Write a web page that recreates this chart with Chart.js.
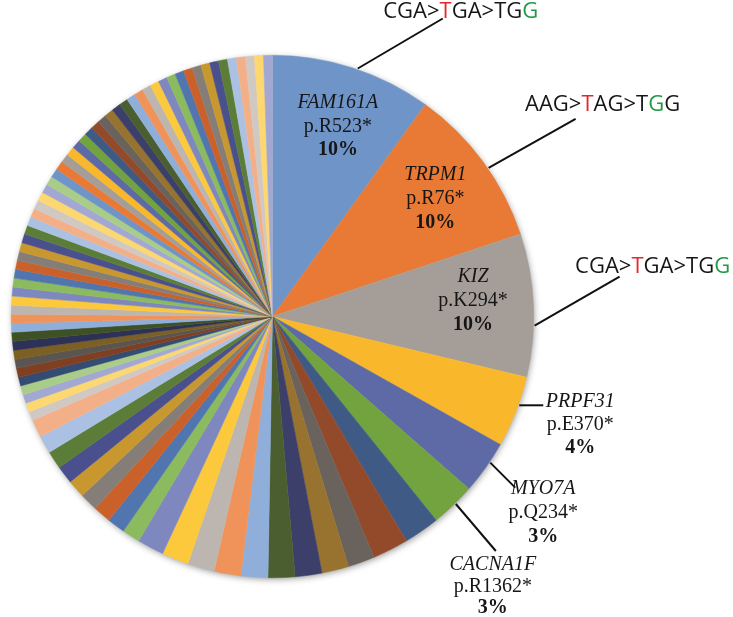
<!DOCTYPE html>
<html lang="en">
<head>
<meta charset="utf-8"/>
<title>Recurrent nonsense variants</title>
<script src="https://cdn.jsdelivr.net/npm/chart.js"></script>
<style>
  html, body { margin: 0; padding: 0; background: #fff; }
  #wrap { width: 733px; height: 617px; }
</style>
</head>
<body>
<div id="wrap"><canvas id="pie" width="733" height="617"></canvas></div>
<script>
// labelled variants (first six slices, clockwise from 12 o'clock)
const genes = ['FAM161A', 'TRPM1', 'KIZ', 'PRPF31', 'MYO7A', 'CACNA1F'];
const proteinChanges = ['p.R523*', 'p.R76*', 'p.K294*', 'p.E370*', 'p.Q234*', 'p.R1362*'];
const percents = ['10%', '10%', '10%', '4%', '3%', '3%'];

// number of families per variant
const counts = [
  18, 18, 16, 8, 6, 5,
  4, 4, 3, 3, 3, 3,
  3, 3, 3, 3, 3, 2,
  2, 2, 2, 2, 2, 2,
  2, 2, 1, 1, 1, 1,
  1, 1, 1, 1, 1, 1,
  1, 1, 1, 1, 1, 1,
  1, 1, 1, 1, 1, 1,
  1, 1, 1, 1, 1, 1,
  1, 1, 1, 1, 1, 1,
  1, 1, 1, 1, 1, 1,
  1, 1, 1, 1, 1, 1,
  1, 1, 1, 1, 1, 1,
  1, 1, 1, 1, 1
];
const labels = genes.concat(counts.slice(genes.length).map((_, i) => 'Other ' + (i + 1)));

// codon changes for the three big slices
const codonPaths = ['CGA>TGA>TGG', 'AAG>TAG>TGG', 'CGA>TGA>TGG'];
const redLetter = [4, 4, 4];
const greenLetter = [10, 9, 10];

// office-like palette, six accents in several shades
const shades = {
  base:  ['#6F95C8', '#E87A35', '#A59E98', '#F9B82B', '#5D6AA5', '#72A33F'],
  dark:  ['#3F5A84', '#934A2A', '#69625D', '#98732F', '#3B3F69', '#4A5E30'],
  light: ['#8FAEDA', '#F0935A', '#BDB5AF', '#FDC93C', '#7E88BF', '#8BBB5E'],
  mid:   ['#5175AE', '#CB612A', '#857E78', '#C8982F', '#4A508D', '#5B7D37'],
  pale:  ['#AAC1E3', '#F3B088', '#D0C9C3', '#FDD76F', '#A2A8D1', '#A9CD89'],
  deep:  ['#344C72', '#7F3F20', '#5A5550', '#7B5F23', '#2E3156', '#3E5125']
};
const shadeOrder = ['base', 'dark', 'light', 'mid', 'pale', 'deep', 'light', 'mid', 'pale', 'base', 'dark', 'light', 'mid', 'pale'];
const colors = counts.map((_, i) => shades[shadeOrder[Math.floor(i / 6)]][i % 6]);

// where leader lines leave each slice (fraction of the slice) and where they go
const callouts = [
  { f: 0.53, line: [85, -50], text: [18, -7], gap: 24 },
  { f: 0.55, line: [87, -49], text: [27, -14], gap: 24 },
  { f: 0.64, line: [85, -49], text: [33, -10], gap: 24 },
  { f: 0.40, line: [24, 0], text: [37, -4], gap: 23.5 },
  { f: 0.38, line: [25, 25], text: [28, 1], gap: 24 },
  { f: 0.44, line: [40, 47], text: [-3, 14], gap: 21.5 }
];
const innerFrac = [0.53, 0.51, 0.44];

function pointAt(arc, frac, r) {
  const a = arc.startAngle + (arc.endAngle - arc.startAngle) * frac;
  return { x: arc.x + Math.cos(a) * r, y: arc.y + Math.sin(a) * r };
}

function drawCodons(ctx, text, redAt, greenAt, cx, cy) {
  ctx.font = '22px "Open Sans"';
  ctx.textAlign = 'left';
  ctx.textBaseline = 'middle';
  let x = cx - ctx.measureText(text).width / 2;
  for (let k = 0; k < text.length; k++) {
    ctx.fillStyle = k === redAt ? '#E5262B' : k === greenAt ? '#1E9A45' : '#161616';
    ctx.fillText(text[k], x, cy);
    x += ctx.measureText(text[k]).width;
  }
}

function drawLabel(ctx, i, cx, cy, gap) {
  ctx.textAlign = 'center';
  ctx.textBaseline = 'middle';
  ctx.fillStyle = '#161616';
  ctx.font = 'italic 20px "Liberation Serif"';
  ctx.fillText(genes[i], cx, cy);
  ctx.font = '20px "Liberation Serif"';
  ctx.fillText(proteinChanges[i], cx, cy + gap);
  ctx.font = 'bold 20px "Liberation Serif"';
  ctx.fillText(percents[i], cx, cy + gap * 2);
}

const pieShadow = {
  id: 'pieShadow',
  beforeDatasetsDraw(chart) {
    const arc = chart.getDatasetMeta(0).data[0];
    const ctx = chart.ctx;
    ctx.save();
    ctx.shadowColor = 'rgba(0,0,0,0.45)';
    ctx.shadowBlur = 7;
    ctx.shadowOffsetX = 1;
    ctx.shadowOffsetY = 2;
    ctx.fillStyle = '#fff';
    ctx.beginPath();
    ctx.arc(arc.x, arc.y, arc.outerRadius - 1, 0, Math.PI * 2);
    ctx.fill();
    ctx.restore();
  }
};

const annotations = {
  id: 'annotations',
  afterDatasetsDraw(chart) {
    const ctx = chart.ctx;
    const arcs = chart.getDatasetMeta(0).data;
    ctx.save();
    callouts.forEach((c, i) => {
      const arc = arcs[i];
      const start = pointAt(arc, c.f, arc.outerRadius + 1);
      const end = { x: start.x + c.line[0], y: start.y + c.line[1] };
      ctx.strokeStyle = '#111';
      ctx.lineWidth = 2;
      ctx.beginPath();
      ctx.moveTo(start.x, start.y);
      ctx.lineTo(end.x, end.y);
      ctx.stroke();
      const tx = end.x + c.text[0];
      const ty = end.y + c.text[1];
      if (i < 3) {
        drawCodons(ctx, codonPaths[i], redLetter[i], greenLetter[i], tx, ty);
        const p = pointAt(arc, innerFrac[i], arc.outerRadius * 0.77);
        drawLabel(ctx, i, p.x, p.y - c.gap, c.gap);
      } else {
        drawLabel(ctx, i, tx, ty, c.gap);
      }
    });
    ctx.restore();
  }
};

new Chart(document.getElementById('pie'), {
  type: 'pie',
  data: {
    labels: labels,
    datasets: [{
      data: counts,
      backgroundColor: colors,
      borderColor: colors,
      borderWidth: 0.5
    }]
  },
  options: {
    responsive: false,
    animation: false,
    layout: { padding: { left: 11, top: 55, right: 199, bottom: 39 } },
    plugins: {
      legend: { display: false },
      tooltip: { enabled: false }
    }
  },
  plugins: [pieShadow, annotations]
});
</script>
</body>
</html>
